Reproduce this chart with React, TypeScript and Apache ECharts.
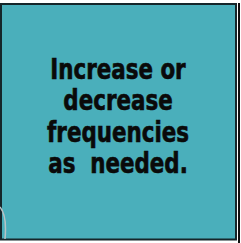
import React, { useEffect, useRef } from "react";
import * as echarts from "echarts";

const lines: string[] = ["Increase or", "decrease", "frequencies", "as  needed."];
const boxColor = "#4aafbb";

export default function App() {
  const ref = useRef<HTMLDivElement>(null);
  useEffect(() => {
    document.body.style.margin = "0";
    const chart = echarts.init(ref.current!, null, { renderer: "svg" });
    const H = 243;
    const cx = 118;
    const top = 83;
    const gap = 31.5;
    chart.setOption({
      animation: false,
      backgroundColor: "#ffffff",
      graphic: [
        {
          type: "rect",
          shape: { x: 1, y: 4, width: 235, height: 235.5 },
          style: { fill: boxColor, stroke: "#15262a", lineWidth: 2 },
        },
        {
          type: "line",
          shape: { x1: 239, y1: 3, x2: 239, y2: H },
          style: { stroke: "#111", lineWidth: 2 },
        },
        {
          type: "bezierCurve",
          shape: { x1: 0, y1: 207, cpx1: 6, cpy1: 214, cpx2: 6, cpy2: 228, x2: 5, y2: 239 },
          style: { stroke: "#b8c2c4", lineWidth: 1.5, fill: "none" },
        },
        ...lines.map((t, i) => ({
          type: "text",
          x: cx,
          y: top + i * gap,
          scaleX: 0.85,
          style: {
            text: t,
            fill: "#0a0a0a",
            stroke: "#0a0a0a",
            lineWidth: 0.6,
            font: "bold 28px 'DejaVu Sans Condensed', 'DejaVu Sans', sans-serif",
            align: "center",
            verticalAlign: "bottom",
          },
        })),
      ],
    });
    return () => chart.dispose();
  }, []);
  return <div ref={ref} style={{ width: 241, height: 243 }} />;
}
